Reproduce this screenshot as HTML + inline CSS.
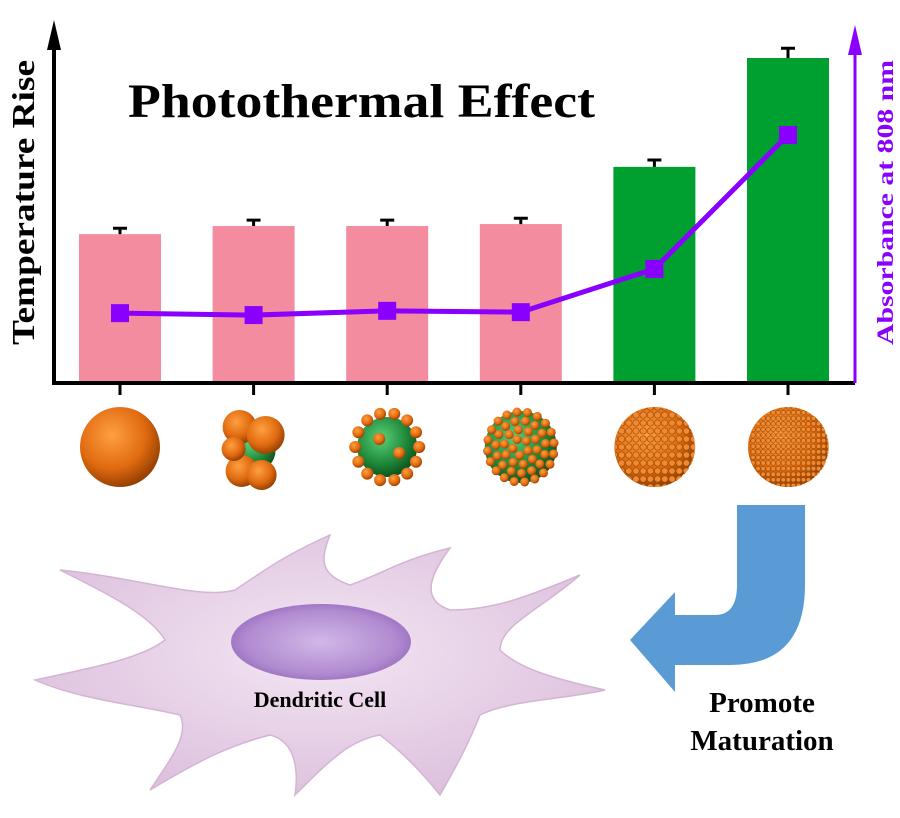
<!DOCTYPE html>
<html><head><meta charset="utf-8"><style>
html,body{margin:0;padding:0;background:#fff;}
svg{display:block;font-family:"Liberation Serif",serif;}
</style></head><body>
<svg id="chart" width="900" height="818" viewBox="0 0 900 818">
<defs>
<radialGradient id="org" cx="0.4" cy="0.35" r="0.7"><stop offset="0" stop-color="#ffa040"/><stop offset="0.6" stop-color="#e06a10"/><stop offset="1" stop-color="#8a3a00"/></radialGradient>
<radialGradient id="grn" cx="0.4" cy="0.35" r="0.7"><stop offset="0" stop-color="#5ad07a"/><stop offset="0.6" stop-color="#1f8a3a"/><stop offset="1" stop-color="#0b4a1a"/></radialGradient>
<radialGradient id="cellg" cx="0.5" cy="0.45" r="0.6"><stop offset="0" stop-color="#f3e6f3"/><stop offset="1" stop-color="#dcbfdc"/></radialGradient>
<radialGradient id="nuc" cx="0.5" cy="0.5" r="0.6"><stop offset="0" stop-color="#d2b8e6"/><stop offset="0.7" stop-color="#b08ad0"/><stop offset="1" stop-color="#8a5fb4"/></radialGradient>
<clipPath id="c4"><circle cx="655.2" cy="447" r="40"/></clipPath>
<clipPath id="c5"><circle cx="788.8" cy="447" r="40"/></clipPath>
</defs>
<g id="plot"></g>
<text x="128" y="117" textLength="467" lengthAdjust="spacingAndGlyphs" font-size="48" font-weight="bold">Photothermal Effect</text>
<text transform="translate(34,345) rotate(-90)" textLength="285" lengthAdjust="spacingAndGlyphs" font-size="32" font-weight="bold">Temperature Rise</text>
<text transform="translate(893,345) rotate(-90)" textLength="285" lengthAdjust="spacingAndGlyphs" font-size="23" font-weight="bold" fill="#8a00ff">Absorbance at 808 nm</text>
<g id="particles"></g>
<g>
<path d="M60,570 C140,578 200,600 235,590 C265,570 285,555 330,535 C320,560 320,575 350,585 C380,575 400,560 450,548 C430,575 420,600 450,610 C490,610 520,600 580,575 C540,610 500,625 500,650 C520,670 560,680 605,690 C560,700 510,700 480,715 C470,740 460,760 440,795 C420,770 400,750 380,735 C350,740 330,760 295,795 C300,760 290,740 270,735 C230,745 200,760 150,790 C170,760 190,735 180,715 C140,705 80,700 35,680 C80,670 140,660 165,640 C150,615 110,595 60,570 Z" fill="url(#cellg)" stroke="#d4b4d4" stroke-width="1.5"/>
<ellipse cx="321" cy="642" rx="90" ry="38" fill="url(#nuc)"/>
<text x="320" y="707" text-anchor="middle" font-size="22" font-weight="bold">Dendritic Cell</text>
</g>
<path d="M737,505 L805,505 L805,585 Q805,665 730,665 L675,665 L675,692 L630,640 L675,592 L675,615 L715,615 Q737,615 737,585 Z" fill="#5b9bd5"/>
<text x="762" y="712" text-anchor="middle" font-size="29" font-weight="bold">Promote</text>
<text x="762" y="750" text-anchor="middle" font-size="29" font-weight="bold">Maturation</text>
</svg>
<script>
const categories = ["Sphere","Tetramer","Sparse","Dense","Packed","Fine"];
const tempValues = [45.8, 48.3, 48.3, 48.9, 66.5, 100];
const tempErrors = [1.8, 1.8, 1.8, 1.8, 2.1, 3.0];
const absValues = [0.215, 0.209, 0.222, 0.218, 0.351, 0.763];
const barColors = ["#f48ca0","#f48ca0","#f48ca0","#f48ca0","#00a030","#00a030"];
const NS="http://www.w3.org/2000/svg";
const x0=54, x1=855, base=383, hMax=325;
const xc = i => 120 + i*133.6;
const yT = v => base - v/100*hMax;
const yA = v => base - v*hMax;
function mk(tag, attrs, parent){const e=document.createElementNS(NS,tag);for(const k in attrs)e.setAttribute(k,attrs[k]);parent.appendChild(e);return e;}
const g=document.getElementById('plot');
categories.forEach((c,i)=>{
  const r=mk('rect',{x:xc(i)-41,y:yT(tempValues[i]),width:82,height:base-yT(tempValues[i]),fill:barColors[i]},g);
  
  
  const ye=yT(tempValues[i]+tempErrors[i]);
  const e=mk('path',{d:`M${xc(i)-7},${ye} H${xc(i)+7} M${xc(i)},${ye} V${yT(tempValues[i])}`,stroke:'#000','stroke-width':3,fill:'none'},g);
  
  
  const t=mk('line',{x1:xc(i),x2:xc(i),y1:base,y2:base+12,stroke:'#000','stroke-width':3},g);
  
  
});
const ax=mk('path',{d:`M${x0},${base+2} V40 M${x0-1},${base} H${x1}`,stroke:'#000','stroke-width':4,fill:'none'},g);


const ah=mk('path',{d:`M${x0-7},50 L${x0},20 L${x0+7},50 Z`,fill:'#000'},g);


const ra=mk('path',{d:`M${x1},${base} V45`,stroke:'#8a00ff','stroke-width':3},g);


const rah=mk('path',{d:`M${x1-7},55 L${x1},25 L${x1+7},55 Z`,fill:'#8a00ff'},g);


const ln=mk('polyline',{points:absValues.map((v,i)=>xc(i)+','+yA(v)).join(' '),fill:'none',stroke:'#8a00ff','stroke-width':5},g);


absValues.forEach((v,i)=>{
  const m=mk('rect',{x:xc(i)-9,y:yA(v)-9,width:18,height:18,fill:'#8a00ff'},g);
  
  
});
const pg=document.getElementById('particles');
const cy=447, R=40;
function ball(cx,cy,r,f,par){return mk('circle',{cx:cx,cy:cy,r:r,fill:f},par||pg);}
ball(xc(0),cy,R,'url(#org)');
ball(xc(1),cy+3,22,'url(#grn)');
[[-14,-20,17],[-12,24,16],[8,28,15],[-20,2,12]].forEach(p=>ball(xc(1)+p[0],cy+p[1],p[2],'url(#org)'));
ball(xc(1)+12,cy-12,19,'url(#org)');
ball(xc(2),cy,30,'url(#grn)');
for(let k=0;k<14;k++){const a=k/14*2*Math.PI;ball(xc(2)+32*Math.cos(a),cy+34*Math.sin(a),6,'url(#org)');}
ball(xc(2)-8,cy-8,6,'url(#org)');ball(xc(2)+12,cy+6,6,'url(#org)');
ball(xc(3),cy,36,'url(#grn)');
for(let rr=8;rr<=34;rr+=8.5){const n=Math.round(rr*0.6);for(let k=0;k<n;k++){const a=k/n*2*Math.PI+rr;ball(xc(3)+rr*Math.cos(a),cy+rr*1.05*Math.sin(a),4.5,'url(#org)');}}
[[5,4],[3.5,2.8]].forEach((s,j)=>{const cx=xc(4+j);ball(cx,cy,R,'url(#org)');const cg=mk('g',{'clip-path':'url(#c'+(4+j)+')'},pg);for(let yy=-R;yy<R+s[0];yy+=s[0]*1.6){for(let xx=-R;xx<R+s[1];xx+=s[1]*1.8){mk('circle',{cx:cx+xx,cy:cy+yy,r:s[1]*0.8,fill:'#f08a30',stroke:'#9a4a08','stroke-width':0.6},cg);}}});
</script>
</body></html>
